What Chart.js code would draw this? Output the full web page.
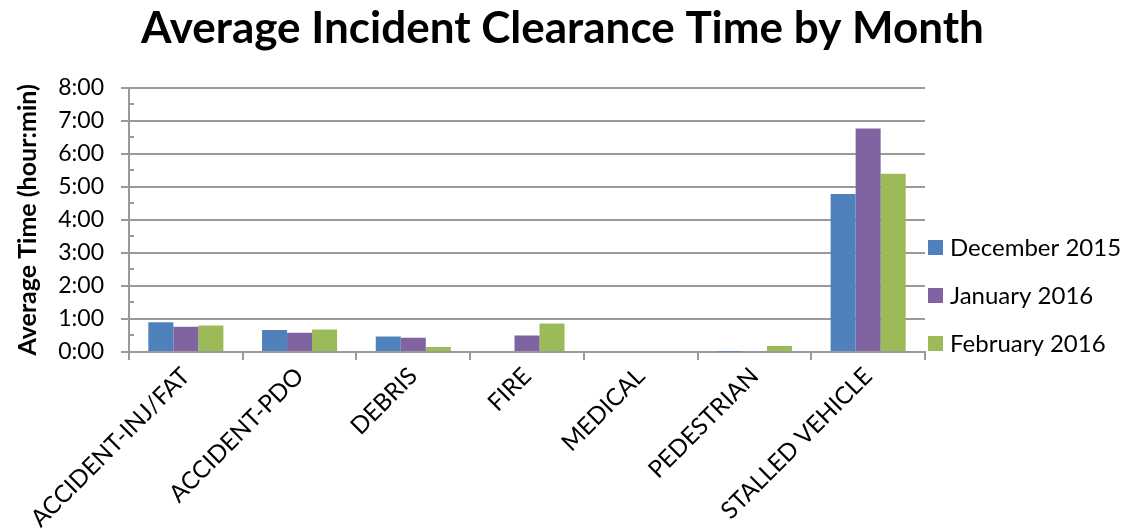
<!DOCTYPE html>
<html lang="en">
<head>
    <meta charset="UTF-8">
    <title>Average Incident Clearance Time by Month</title>
    <style>
        html, body {
            margin: 0;
            padding: 0;
            background: #ffffff;
        }
        .chart-container {
            position: relative;
            width: 1125px;
            height: 529px;
        }
    </style>
</head>
<body>
    <div class="chart-container">
        <canvas id="clearChart"></canvas>
    </div>

    <script src="https://cdn.jsdelivr.net/npm/chart.js"></script>
    <script>
        // incident types
        const categories = ['ACCIDENT-INJ/FAT', 'ACCIDENT-PDO', 'DEBRIS', 'FIRE', 'MEDICAL', 'PEDESTRIAN', 'STALLED VEHICLE'];
        // average clearance time, in minutes
        const dec2015 = [54, 40, 28, 0, 0, 1, 287];
        const jan2016 = [46, 35, 26, 30, 0, 0, 406];
        const feb2016 = [48, 41, 9, 52, 0, 11, 324];
        const seriesNames = ['December 2015', 'January 2016', 'February 2016'];
        const seriesColors = ['#4F81BD', '#8064A2', '#9BBB59'];
        // y axis: 0:00 to 8:00, one tick per hour
        const yMax = 480;
        const yStep = 60;

        const gridGray = '#9a9a9a';
        const fontName = 'Lato';

        // h:mm from minutes
        function formatTime(mins) {
            const h = Math.floor(mins / 60);
            const m = Math.round(mins % 60);
            return h + ':' + String(m).padStart(2, '0');
        }

        // half hour ticks inside the y axis, like the original
        const minorTicks = {
            id: 'minorTicks',
            afterDraw(chart) {
                const y = chart.scales.y;
                const ctx = chart.ctx;
                const left = chart.chartArea.left;
                ctx.save();
                ctx.strokeStyle = gridGray;
                ctx.lineWidth = 2;
                for (let v = yStep / 2; v < yMax; v += yStep) {
                    const py = Math.round(y.getPixelForValue(v));
                    ctx.beginPath();
                    ctx.moveTo(left, py);
                    ctx.lineTo(left + 5, py);
                    ctx.stroke();
                }
                ctx.restore();
            }
        };

        // legend on the right, boxes and names from the datasets
        const sideLegend = {
            id: 'sideLegend',
            afterDraw(chart) {
                const ctx = chart.ctx;
                const x = chart.chartArea.right + 3;
                const midY = 295;
                const gap = 48;
                const sets = chart.data.datasets;
                ctx.save();
                ctx.font = '24px ' + fontName;
                ctx.textBaseline = 'middle';
                ctx.textAlign = 'left';
                sets.forEach((ds, i) => {
                    const cy = midY + (i - (sets.length - 1) / 2) * gap;
                    ctx.fillStyle = ds.backgroundColor;
                    ctx.fillRect(x, cy - 7, 15, 15);
                    ctx.fillStyle = '#000000';
                    ctx.fillText(ds.label, x + 22, cy + 1);
                });
                ctx.restore();
            }
        };

        const ctx = document.getElementById('clearChart').getContext('2d');
        const clearChart = new Chart(ctx, {
            type: 'bar',
            data: {
                labels: categories,
                datasets: [
                    { label: seriesNames[0], data: dec2015, backgroundColor: seriesColors[0] },
                    { label: seriesNames[1], data: jan2016, backgroundColor: seriesColors[1] },
                    { label: seriesNames[2], data: feb2016, backgroundColor: seriesColors[2] }
                ]
            },
            options: {
                responsive: true,
                maintainAspectRatio: false,
                animation: false,
                datasets: {
                    bar: {
                        categoryPercentage: 0.66,
                        barPercentage: 1.0,
                        borderWidth: 0
                    }
                },
                layout: {
                    padding: 0
                },
                plugins: {
                    legend: { display: false },
                    tooltip: { enabled: false },
                    title: {
                        display: true,
                        text: 'Average Incident Clearance Time by Month',
                        color: '#000000',
                        font: { family: fontName, size: 44, weight: 'bold', lineHeight: 1.2 },
                        padding: { top: 2, bottom: 33 }
                    }
                },
                scales: {
                    x: {
                        afterFit(scale) { scale.height = 177; },
                        grid: {
                            offset: true,
                            drawOnChartArea: false,
                            color: gridGray,
                            lineWidth: 2,
                            tickLength: 8
                        },
                        border: { display: true, color: gridGray, width: 2 },
                        ticks: {
                            color: '#000000',
                            font: { family: fontName, size: 24 },
                            maxRotation: 45,
                            minRotation: 45,
                            autoSkip: false,
                            padding: 2
                        }
                    },
                    y: {
                        min: 0,
                        max: yMax,
                        afterFit(scale) { scale.width = 129; },
                        grid: {
                            color: gridGray,
                            lineWidth: 2,
                            tickLength: 8
                        },
                        border: { display: true, color: gridGray, width: 2 },
                        ticks: {
                            stepSize: yStep,
                            color: '#000000',
                            font: { family: fontName, size: 23 },
                            padding: 17,
                            callback: (v) => formatTime(v)
                        },
                        title: {
                            display: true,
                            text: 'Average Time (hour:min)',
                            color: '#000000',
                            font: { family: fontName, size: 25, weight: 'bold', lineHeight: 1.2 },
                            padding: { top: 13, bottom: 0 }
                        }
                    },
                    // empty box on the right, room for the legend
                    legendRoom: {
                        type: 'linear',
                        position: 'right',
                        afterFit(scale) { scale.width = 200; },
                        grid: { display: false },
                        border: { display: false },
                        ticks: { display: false }
                    }
                }
            },
            plugins: [minorTicks, sideLegend]
        });
    </script>
</body>
</html>
